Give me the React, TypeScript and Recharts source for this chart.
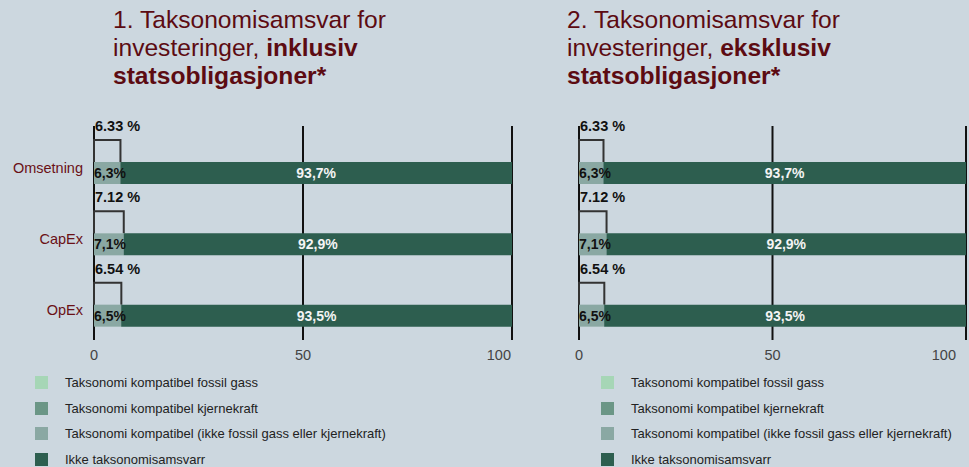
import { Bar, BarChart, CartesianGrid, LabelList, XAxis, YAxis } from 'recharts';

const categories = ['Omsetning', 'CapEx', 'OpEx'];
const fossilGas = [0, 0, 0];
const nuclear = [0, 0, 0];
const aligned = [6.3, 7.1, 6.5];
const notAligned = [93.7, 92.9, 93.5];
const alignedTotalIncl = [6.33, 7.12, 6.54];
const alignedTotalExcl = [6.33, 7.12, 6.54];
const xTicks = [0, 50, 100];

const seriesKeys = ['fossil', 'nuclear', 'aligned', 'notAligned'];
const seriesNames = [
  'Taksonomi kompatibel fossil gass',
  'Taksonomi kompatibel kjernekraft',
  'Taksonomi kompatibel (ikke fossil gass eller kjernekraft)',
  'Ikke taksonomisamsvarr',
];
const seriesColors = ['#a6d6b6', '#6b9686', '#8aa8a3', '#2d5e4f'];

const FONT = '"Liberation Sans", Arial, sans-serif';
const BG = '#ccd7df';
const RED = '#5c0b12';

function buildRows(totals: number[]) {
  return categories.map((name, i) => ({
    name,
    total: totals[i],
    fossil: fossilGas[i],
    nuclear: nuclear[i],
    aligned: aligned[i],
    notAligned: notAligned[i],
  }));
}

const Bracket = (props: any) => {
  const { x, y, width, height } = props;
  if (!width) return null;
  return (
    <path
      d={`M${x},${y + height} L${x},${y} L${x + width},${y} L${x + width},${y + height}`}
      fill="none"
      stroke="#333"
      strokeWidth={2}
    />
  );
};

const TotalLabel = (props: any) => {
  const { x, y, value } = props;
  return (
    <text x={x + 1} y={y - 14} dy="0.35em" fontWeight="bold" fontSize={14.5} fill="#111" fontFamily={FONT}>
      {Number(value).toFixed(2)} %
    </text>
  );
};

const pct = (v: number) => `${v.toFixed(1).replace('.', ',')}%`;

const AlignedLabel = (props: any) => {
  const { x, y, height, value } = props;
  return (
    <text x={x} y={y + height / 2} dy="0.35em" fontWeight="bold" fontSize={14} fill="#111" fontFamily={FONT}>
      {pct(Number(value))}
    </text>
  );
};

const NotAlignedLabel = (props: any) => {
  const { x, y, width, height, value } = props;
  return (
    <text
      x={x + width / 2}
      y={y + height / 2}
      dy="0.35em"
      textAnchor="middle"
      fontWeight="bold"
      fontSize={14}
      fill="#f4f4f4"
      fontFamily={FONT}
    >
      {pct(Number(value))}
    </text>
  );
};

const XTick = (props: any) => {
  const { x, y, payload } = props;
  const last = payload.value === 100;
  return (
    <text
      x={last ? x - 1 : x}
      y={y}
      dy="0.71em"
      textAnchor={last ? 'end' : 'middle'}
      fontSize={14.5}
      fill="#444"
      fontFamily={FONT}
    >
      {payload.value}
    </text>
  );
};

const YTick = (props: any) => {
  const { x, y, payload } = props;
  return (
    <text x={x} y={y + 6} dy="0.35em" textAnchor="end" fontSize={14.5} fill="#6a1016" fontFamily={FONT}>
      {payload.value}
    </text>
  );
};

function Panel({ totals, showCategories }: { totals: number[]; showCategories: boolean }) {
  const data = buildRows(totals);
  return (
    <BarChart
      width={showCategories ? 530 : 429}
      height={380}
      data={data}
      layout="vertical"
      barSize={22}
      barGap={0}
      margin={{ top: 126, right: showCategories ? 18 : 3, bottom: 10, left: showCategories ? 0 : 39 }}
    >
      <CartesianGrid horizontal={false} vertical stroke="#111" strokeWidth={2} />
      <XAxis
        type="number"
        domain={[0, 100]}
        ticks={xTicks}
        axisLine={false}
        tickLine={false}
        tickSize={0}
        tickMargin={10}
        height={30}
        tick={<XTick />}
      />
      <YAxis
        type="category"
        dataKey="name"
        width={94}
        hide={!showCategories}
        axisLine={false}
        tickLine={false}
        tickMargin={5}
        tick={<YTick />}
      />
      <Bar dataKey="total" stackId="total" shape={<Bracket />} legendType="none" isAnimationActive={false}>
        <LabelList dataKey="total" content={<TotalLabel />} />
      </Bar>
      {seriesKeys.map((key, i) => (
        <Bar
          key={key}
          dataKey={key}
          name={seriesNames[i]}
          stackId="split"
          fill={seriesColors[i]}
          isAnimationActive={false}
        >
          {key === 'aligned' && <LabelList dataKey={key} content={<AlignedLabel />} />}
          {key === 'notAligned' && <LabelList dataKey={key} content={<NotAlignedLabel />} />}
        </Bar>
      ))}
    </BarChart>
  );
}

function Legend({ left }: { left: number }) {
  return (
    <div style={{ position: 'absolute', left, top: 376 }}>
      {seriesNames.map((name, i) => (
        <div key={name} style={{ display: 'flex', height: 25.6 }}>
          <span style={{ width: 13, height: 13, background: seriesColors[i], display: 'inline-block', marginRight: 17 }} />
          <span style={{ fontSize: 13, color: '#222', lineHeight: '13px' }}>{name}</span>
        </div>
      ))}
    </div>
  );
}

function Title({ left, num, word }: { left: number; num: string; word: string }) {
  return (
    <div style={{ position: 'absolute', left, top: 6, fontSize: 24.6, lineHeight: '28px', color: RED }}>
      {num}. Taksonomisamsvar for
      <br />
      investeringer, <b>{word}</b>
      <br />
      <b>statsobligasjoner*</b>
    </div>
  );
}

export default function App() {
  return (
    <div
      style={{
        position: 'fixed',
        left: 0,
        top: 0,
        width: 969,
        height: 467,
        background: BG,
        fontFamily: FONT,
        overflow: 'hidden',
      }}
    >
      <Title left={113} num="1" word="inklusiv" />
      <Title left={567} num="2" word="eksklusiv" />
      <div style={{ position: 'absolute', left: 0, top: 0 }}>
        <Panel totals={alignedTotalIncl} showCategories />
      </div>
      <div style={{ position: 'absolute', left: 540, top: 0 }}>
        <Panel totals={alignedTotalExcl} showCategories={false} />
      </div>
      <Legend left={35} />
      <Legend left={601} />
    </div>
  );
}
